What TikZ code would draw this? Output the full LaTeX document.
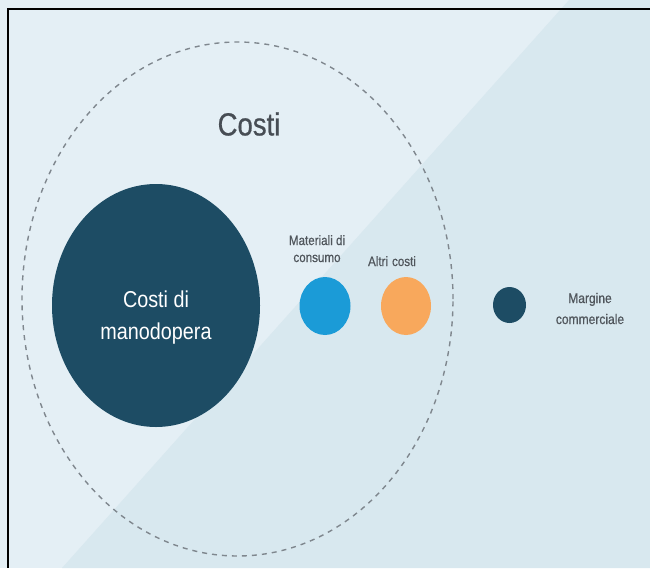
\documentclass[tikz,border=0pt]{standalone}
\usepackage{fontspec}
\usetikzlibrary{shapes.geometric}
\setmainfont{Liberation Sans}
\newfontfamily\condfont[FakeStretch=0.86]{Liberation Sans}
\newfontfamily\condmedium[FakeStretch=0.86,FakeBold=0.6]{Liberation Sans}
\definecolor{bglight}{HTML}{E4EFF5}
\definecolor{bgdark}{HTML}{D8E8EF}
\definecolor{navy}{HTML}{1D4C64}
\definecolor{skyblue}{HTML}{1B9BD7}
\definecolor{peach}{HTML}{F8A85C}
\definecolor{dashgray}{HTML}{7F878E}
\definecolor{titlegray}{HTML}{474D54}
\definecolor{labelgray}{HTML}{50565C}
\tikzset{
  blob/.style={ellipse, inner sep=0pt, draw=none},
  smalllabel/.style={font=\condmedium\fontsize{13.5}{17}\selectfont, text=labelgray, align=center, inner sep=0pt},
}
\begin{document}
\begin{tikzpicture}[x=1pt, y=-1pt]
\useasboundingbox (0,0) rectangle (650,568);
% background with a diagonal shading split
\fill[bglight] (0,0) rectangle (650,568);
\fill[bgdark] (569,0) -- (650,0) -- (650,568) -- (62,568) -- cycle;
% frame on the top and left edges
\draw[black, line width=2.6pt] (7,9) -- (650,9);
\draw[black, line width=2.6pt] (8,9) -- (8,568);

% dashed boundary of the cost group
\node[blob, draw=dashgray, line width=1.4pt, dash pattern=on 5pt off 5pt,
      minimum width=431pt, minimum height=514pt] (costi) at (237.5,299) {};
\node[font=\condmedium\fontsize{32}{36}\selectfont, text=titlegray, inner sep=0pt] (title) at (249,124) {Costi};

% labour cost
\node[blob, fill=navy, minimum width=208pt, minimum height=243pt] (labour) at (156,305.5) {};
\node[text=white, align=center, inner sep=0pt, font=\condfont\fontsize{23}{32}\selectfont]
     (labourtext) at ([yshift=-12pt]labour.center) {Costi di\\manodopera};

% materials and other costs
\node[blob, fill=skyblue, minimum width=51pt, minimum height=58pt] (mat) at (325,306) {};
\node[blob, fill=peach, minimum width=50pt, minimum height=58pt] (alt) at (406,306) {};
\node[smalllabel, anchor=base] (matlab) at (317,262) {Materiali di\\consumo};
\node[smalllabel, anchor=base] (altlab) at (392,266) {Altri\hspace{4pt}costi};

% commercial margin
\node[blob, fill=navy, minimum width=33pt, minimum height=36pt] (marg) at (509.5,305) {};
\node[smalllabel, font=\condmedium\fontsize{14}{21}\selectfont, anchor=base] (marglab) at (590,324) {Margine\\commerciale};
\end{tikzpicture}
\end{document}
